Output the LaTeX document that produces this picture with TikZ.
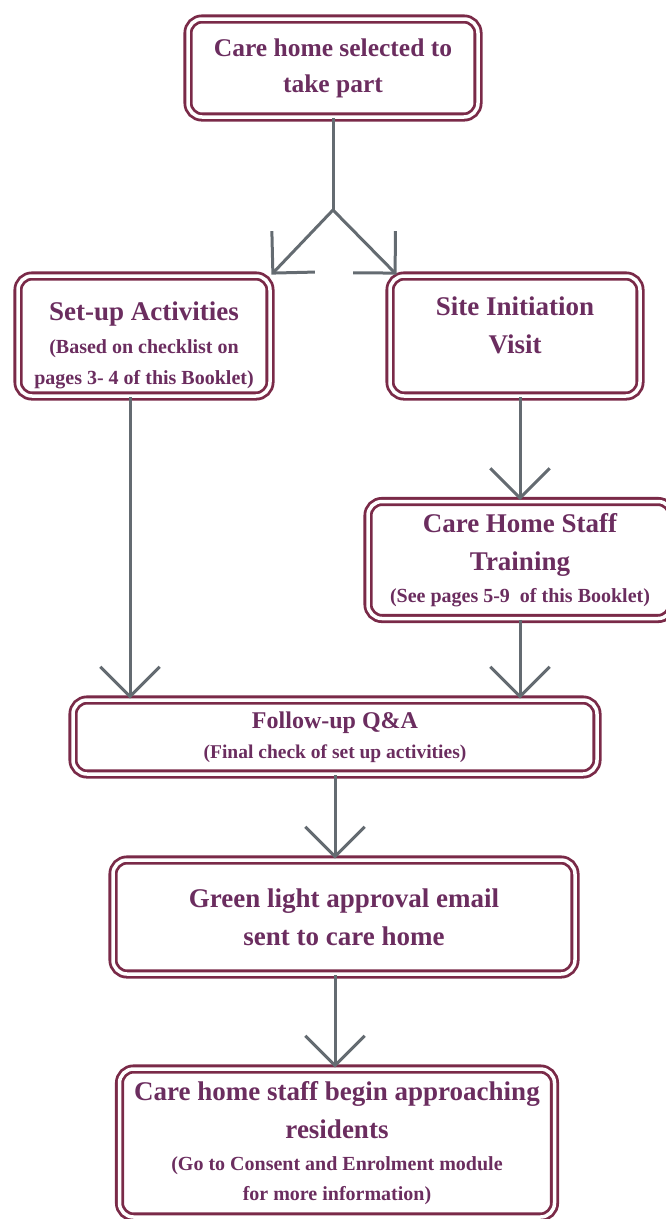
\documentclass[tikz,border=0pt]{standalone}
\usepackage{fontspec}
\setmainfont{Liberation Serif}
\usetikzlibrary{arrows.meta}

\definecolor{boxedge}{HTML}{7A2A48}
\definecolor{boxtext}{HTML}{6B2D5F}
\definecolor{arrowgrey}{HTML}{646B71}

% smaller line inside a box
\newcommand{\noteline}[1]{{\fontsize{20}{24}\selectfont #1}}

\begin{document}
\begin{tikzpicture}[%
  box/.style = {draw = boxedge, double = white, double distance = 3.5pt,
    line width = 2.8pt, rounded corners = 14pt, align = center,
    text = boxtext, inner sep = 0pt,
    font = \bfseries\fontsize{27}{38}\selectfont},
  flow/.style = {draw = arrowgrey, line width = 3pt,
    -{Straight Barb[angle = 90:42pt]}},
  x = 1pt, y = -1pt]
  \useasboundingbox (0, 0) rectangle (666, 1219);

  \node[box, minimum width = 290pt, minimum height = 98pt,
    font = \bfseries\fontsize{25.5}{36}\selectfont] (sel) at (333, 68)
    {Care home selected to\\take part};
  \node[box, minimum width = 252pt, minimum height = 120pt] (setup) at (144, 336)
    {Set-up Activities\\[-5pt] \noteline{(Based on checklist on}\\[-7pt]
     \noteline{pages 3- 4 of this Booklet)}\\[-52pt]};
  \node[box, minimum width = 250pt, minimum height = 120pt] (siv) at (515, 336)
    {Site Initiation\\Visit\\[-16pt]};
  \node[box, minimum width = 304pt, minimum height = 117pt] (train) at (520, 560)
    {Care Home Staff\\Training\\[-6pt] \noteline{(See pages 5-9\ \ of this Booklet)}};
  \node[box, minimum width = 524pt, minimum height = 74pt,
    font = \bfseries\fontsize{24}{34}\selectfont] (follow) at (335, 737)
    {Follow-up Q\&A\\[-4pt] {\fontsize{19.5}{22}\selectfont (Final check of set up activities)}};
  \node[box, minimum width = 462pt, minimum height = 114pt] (green) at (344, 917)
    {Green light approval email\\sent to care home};
  \node[box, minimum width = 435pt, minimum height = 148pt] (begin) at (337, 1143)
    {Care home staff begin approaching\\residents\\[-6pt]
     \noteline{(Go to Consent and Enrolment module}\\[-8pt]
     \noteline{for more information)}};

  \coordinate (fork) at (333, 210);
  \draw[flow, -] (sel) -- (fork);
  \draw[flow] (fork) -- (setup.north east);
  \draw[flow] (fork) -- ([xshift = 8pt]siv.north west);
  \draw[flow] (setup.south -| 130, 0) -- (follow.north -| 130, 0);
  \draw[flow] (siv.south -| train.north) -- (train.north);
  \draw[flow] (train.south) -- (follow.north -| train.south);
  \draw[flow] (follow.south) -- (green.north -| follow.south);
  \draw[flow] (green.south -| follow.south) -- (begin.north -| follow.south);
\end{tikzpicture}
\end{document}
